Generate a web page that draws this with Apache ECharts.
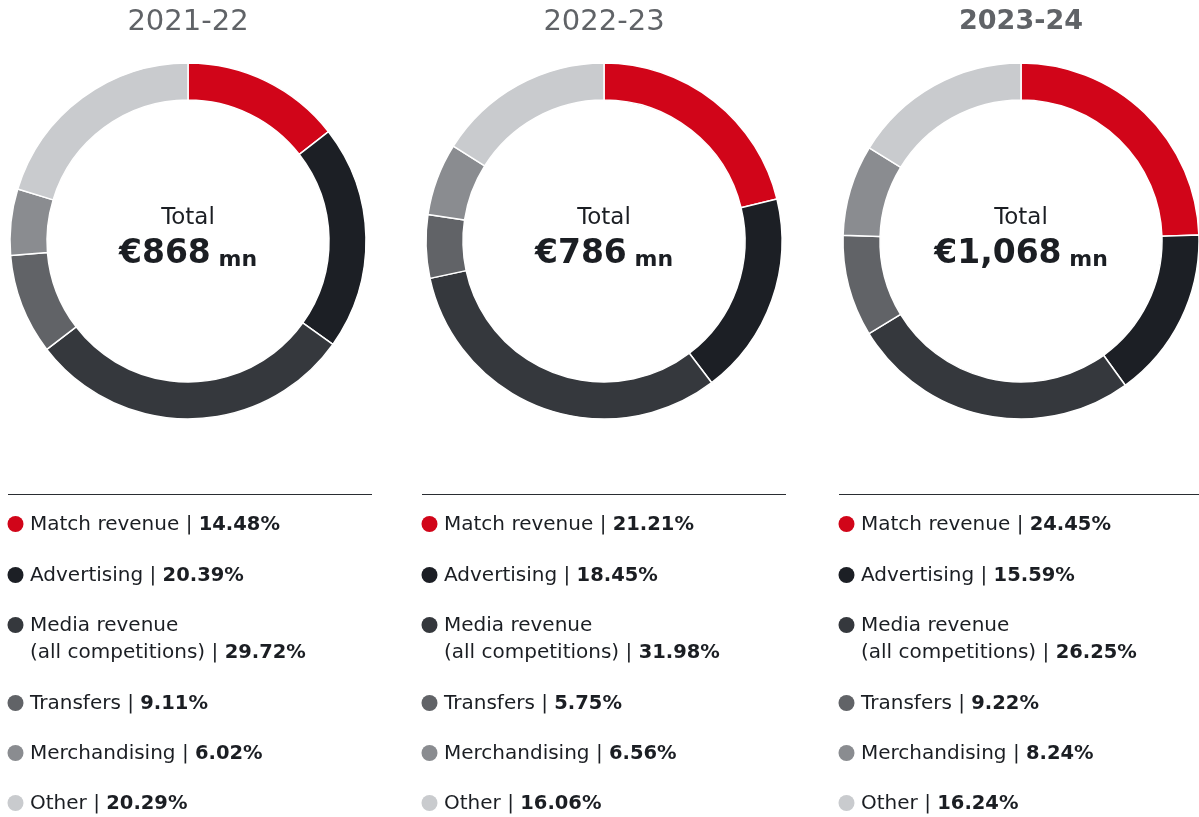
<!DOCTYPE html>
<html>
<head>
<meta charset="utf-8">
<script src="https://cdn.jsdelivr.net/npm/echarts@6/dist/echarts.min.js"></script>
<style>
  html, body { margin: 0; padding: 0; background: #fff; }
  #revenueChart { width: 1199px; height: 817px; }
</style>
</head>
<body>
<div id="revenueChart"></div>
<script>
var seasons = ['2021-22', '2022-23', '2023-24']
var totals = ['€868', '€786', '€1,068']
var categories = ['Match revenue', 'Advertising', 'Media revenue', 'Transfers', 'Merchandising', 'Other']
var legendLabels = ['Match revenue', 'Advertising', 'Media revenue\n(all competitions)', 'Transfers', 'Merchandising', 'Other']
var share2122 = [14.48, 20.39, 29.72, 9.11, 6.02, 20.29]
var share2223 = [21.21, 18.45, 31.98, 5.75, 6.56, 16.06]
var share2324 = [24.45, 15.59, 26.25, 9.22, 8.24, 16.24]
var shares = [share2122, share2223, share2324]

var colors = ['#d10519', '#1c1f25', '#35383d', '#616367', '#8a8c90', '#c9cbce']
var fontFamily = '"DejaVu Sans", "Noto Sans", sans-serif'
var textColor = '#1b1e23'

var centersX = [188, 604, 1021]
var columnX = [8, 422, 839]
var columnW = [364, 364, 360]
var rowY = [524, 575, 625, 703, 753, 803]

var myChart = echarts.init(document.getElementById('revenueChart'))

var series = []
var titles = []
var graphics = []

shares.forEach(function (vals, i) {
  series.push({
    type: 'pie',
    center: [centersX[i], 241],
    radius: [141, 178],
    startAngle: 90,
    clockwise: true,
    silent: true,
    label: { show: false },
    labelLine: { show: false },
    itemStyle: { borderColor: '#fff', borderWidth: 1.5 },
    data: categories.map(function (name, k) {
      return { name: name, value: vals[k], itemStyle: { color: colors[k] } }
    })
  })

  // season heading
  titles.push({
    text: seasons[i],
    left: centersX[i],
    top: 8,
    padding: 0,
    textAlign: 'center',
    textStyle: {
      fontFamily: fontFamily,
      fontSize: i === 2 ? 27 : 29,
      fontWeight: i === 2 ? 'bold' : 'normal',
      color: '#606367'
    }
  })

  // centre text
  graphics.push({
    type: 'text',
    x: centersX[i],
    y: 218,
    style: {
      text: 'Total',
      fontFamily: fontFamily,
      fontSize: 23,
      fill: textColor,
      align: 'center',
      verticalAlign: 'middle'
    }
  })
  graphics.push({
    type: 'text',
    x: centersX[i],
    y: 251,
    style: {
      text: '{big|' + totals[i] + '}{small| mn}',
      align: 'center',
      verticalAlign: 'middle',
      rich: {
        big: { fontFamily: fontFamily, fontSize: 33, fontWeight: 'bold', fill: textColor, verticalAlign: 'bottom', lineHeight: 40 },
        small: { fontFamily: fontFamily, fontSize: 22, fontWeight: 'bold', fill: textColor, verticalAlign: 'bottom', lineHeight: 35 }
      }
    }
  })

  // separator line
  graphics.push({
    type: 'line',
    shape: { x1: columnX[i], y1: 494.5, x2: columnX[i] + columnW[i], y2: 494.5 },
    style: { stroke: '#2a2d32', lineWidth: 1.2 }
  })

  // legend rows
  categories.forEach(function (name, k) {
    graphics.push({
      type: 'circle',
      shape: { cx: columnX[i] + 7.5, cy: rowY[k], r: 8 },
      style: { fill: colors[k] }
    })
    var label = legendLabels[k]
    var lines = label.split('\n')
    var last = lines.pop()
    var txt = lines.map(function (l) { return '{n|' + l + '}' }).join('\n')
    txt += (txt ? '\n' : '') + '{n|' + last + ' | }{b|' + vals[k].toFixed(2) + '%}'
    graphics.push({
      type: 'text',
      x: columnX[i] + 22,
      y: rowY[k] - 13,
      style: {
        text: txt,
        align: 'left',
        verticalAlign: 'top',
        rich: {
          n: { fontFamily: fontFamily, fontSize: 20, fill: textColor, lineHeight: 27 },
          b: { fontFamily: fontFamily, fontSize: 19.5, fontWeight: 'bold', fill: textColor, lineHeight: 27 }
        }
      }
    })
  })
})

var option = {
  backgroundColor: '#fff',
  animation: false,
  title: titles,
  series: series,
  graphic: graphics
}

myChart.setOption(option)
window.onresize = function () {
  myChart.resize()
}
</script>
</body>
</html>
